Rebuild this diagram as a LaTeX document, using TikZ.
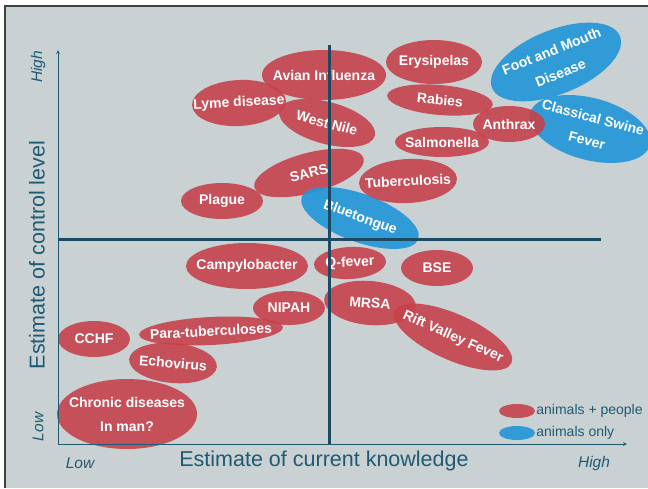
\documentclass[tikz,border=0pt]{standalone}
\usepackage{fontspec}
\setmainfont{Liberation Sans}
\usetikzlibrary{shapes.geometric}
\definecolor{fond}{HTML}{C9D1D3}
\definecolor{rouge}{HTML}{C6424C}
\definecolor{bleu}{HTML}{2196D8}
\definecolor{axe}{HTML}{1F5A73}
\definecolor{croix}{HTML}{1B4A62}
\begin{document}
\begin{tikzpicture}[x=1pt,y=-1pt]
\tikzset{bulle/.style={ellipse, fill=rouge, fill opacity=0.9, text opacity=1, text=white, inner sep=-40pt, align=center, font=\fontsize{14}{24}\selectfont\bfseries},
bulleb/.style={bulle, fill=bleu},
taille/.style 2 args={minimum width=#1, minimum height=#2},
legende/.style={text=axe, font=\fontsize{14}{16}\selectfont}}
\useasboundingbox (0,0) rectangle (648,488);
\fill[fond] (5,6) rectangle (648,488);
\draw[line width=2pt, black!75] (5,488) -- (5,6) -- (648,6);
% upper half
\node[bulle, taille={124pt}{50pt}] (avian) at (324,75) {Avian Influenza};
\node[bulle, taille={94pt}{46pt}, rotate=3] (lyme) at (239,103) {Lyme disease};
\node[bulle, taille={99pt}{42pt}, rotate=-15] (westnile) at (327,123) {West Nile};
\node[bulle, taille={113pt}{40pt}, rotate=15] (sars) at (309,173) {SARS};
\node[bulle, taille={82pt}{36pt}] (plague) at (222,201) {Plague};
\node[bulleb, taille={124pt}{48pt}, rotate=-20] (bluetongue) at (360,218) {Bluetongue};
\node[bulle, taille={96pt}{44pt}] (erysipelas) at (434,62) {Erysipelas};
\node[bulle, taille={106pt}{30pt}, rotate=-5] (rabies) at (440,100) {Rabies};
\node[bulle, taille={94pt}{30pt}] (salmonella) at (442,142) {Salmonella};
\node[bulle, taille={98pt}{44pt}, rotate=3] (tuberculosis) at (408,181) {Tuberculosis};
\node[bulleb, taille={138pt}{64pt}, rotate=22] (fmd) at (556,62) {Foot and Mouth\\Disease};
\node[bulleb, taille={124pt}{62pt}, rotate=-15] (csf) at (590,129) {Classical Swine\\Fever};
\node[bulle, taille={72pt}{36pt}] (anthrax) at (509,124) {Anthrax};
% lower half
\node[bulle, taille={122pt}{46pt}] (campylobacter) at (247,266) {Campylobacter};
\node[bulle, taille={72pt}{32pt}, rotate=3] (qfever) at (350,263) {Q-fever};
\node[bulle, taille={72pt}{36pt}] (bse) at (437,268) {BSE};
\node[bulle, taille={72pt}{34pt}] (nipah) at (289,308) {NIPAH};
\node[bulle, taille={92pt}{44pt}, rotate=-5] (mrsa) at (370,303) {MRSA};
\node[bulle, taille={128pt}{46pt}, rotate=-24] (rvf) at (453,337) {Rift Valley Fever};
\node[bulle, taille={144pt}{28pt}, rotate=3] (paratb) at (211,331) {Para-tuberculoses};
\node[bulle, taille={72pt}{36pt}] (cchf) at (94,339) {CCHF};
\node[bulle, taille={88pt}{40pt}, rotate=-5] (echovirus) at (173,363) {Echovirus};
\node[bulle, taille={140pt}{70pt}] (chronic) at (127,414) {Chronic diseases\\In man?};
% axes
\coordinate (O) at (58,444);
\coordinate (Ytop) at (58,50);
\coordinate (Xend) at (627,444);
\draw[axe, line width=0.8pt, -stealth] (O) -- (Ytop);
\draw[axe, line width=0.8pt, -stealth] (O) -- (Xend);
\coordinate (Vh) at (329,45);
\coordinate (Vb) at (329,444);
\coordinate (Hg) at (58,239);
\coordinate (Hd) at (601,239);
\draw[croix, line width=3pt] (Vh) -- (Vb);
\draw[croix, line width=3pt] (Hg) -- (Hd);
% labels
\node[rotate=90, text=axe, font=\fontsize{15.5}{18}\selectfont\itshape] (hauty) at (38,67) {High};
\node[rotate=90, text=axe, font=\fontsize{15.5}{18}\selectfont\itshape] (basy) at (38,427) {Low};
\node[rotate=90, text=axe, font=\fontsize{21.5}{24}\selectfont] (titrey) at (37,255) {Estimate of control level};
\node[text=axe, font=\fontsize{15.5}{18}\selectfont\itshape] (basx) at (80,463) {Low};
\node[text=axe, font=\fontsize{21.5}{24}\selectfont] (titrex) at (324,461) {Estimate of current knowledge};
\node[text=axe, font=\fontsize{15.5}{18}\selectfont\itshape] (hautx) at (594,463) {High};
% legend
\node[bulle, taille={36pt}{14pt}] (lrouge) at (517,411) {};
\node[bulleb, taille={36pt}{14pt}] (lbleu) at (517,433) {};
\node[legende, anchor=west, inner sep=1pt] (trouge) at (lrouge.east) {animals + people};
\node[legende, anchor=west, inner sep=1pt] (tbleu) at (lbleu.east) {animals only};
\end{tikzpicture}
\end{document}
